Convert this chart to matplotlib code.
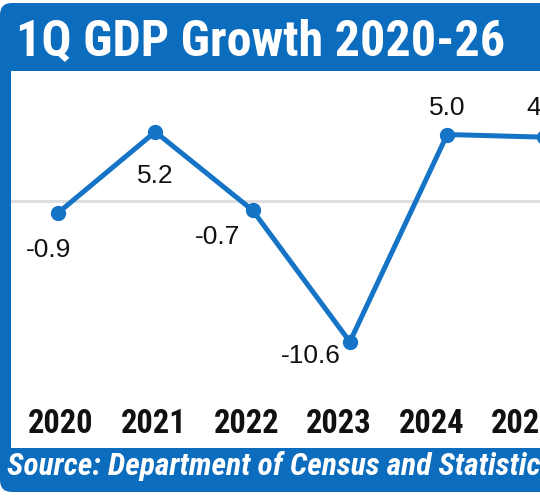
import matplotlib
matplotlib.use("Agg")
import matplotlib.pyplot as plt
from matplotlib import font_manager as fm
from matplotlib.patches import FancyBboxPatch

years = [2020, 2021, 2022, 2023, 2024, 2025]
year_labels = ["2020", "2021", "2022", "2023", "2024", "2025"]
growth = [-0.9, 5.2, -0.7, -10.6, 5.0, 4.8]
value_labels = ["-0.9", "5.2", "-0.7", "-10.6", "5.0", "4.8"]
title = "1Q GDP Growth 2020-26"
source = "Source: Department of Census and Statistics"

# label offsets in points (style only)
label_offsets = [(-7, -27), (0, -32), (-25, -19), (-28, -10), (0, 19), (0, 21)]

def pick(cands):
    names = {f.name for f in fm.fontManager.ttflist}
    for c in cands:
        if c in names:
            return c
    return "DejaVu Sans"

narrow = pick(["Roboto Condensed", "Liberation Sans Narrow", "DejaVu Sans Condensed", "Liberation Sans"])
regular = pick(["Liberation Sans", "Arial", "DejaVu Sans"])

BLUE = "#0c6cbd"
LINE = "#1674c6"

fig = plt.figure(figsize=(5.4, 5.0), dpi=100)
fig.patch.set_facecolor("white")

bg = fig.add_axes([0, 0, 1, 1])
bg.set_xlim(0, 540)
bg.set_ylim(500, 0)
bg.axis("off")
bg.add_patch(FancyBboxPatch((0, 3), 620, 489, boxstyle="round,pad=0,rounding_size=12",
                            facecolor=BLUE, edgecolor="none"))
bg.text(16, 55, title, color="white", fontsize=36, fontweight="bold",
        family=[narrow, "DejaVu Sans"], va="baseline", ha="left")
bg.text(7, 475, source, color="white", fontsize=22.6, fontweight="bold", fontstyle="italic",
        family=[narrow, "DejaVu Sans"], va="baseline", ha="left")

ax = fig.add_axes([11 / 540, 52 / 500, 529 / 540, 377 / 500])
ax.set_facecolor("white")
ax.set_xlim(2019.517, 2024.954)
ax.set_ylim(-18.59, 9.78)
for s in ax.spines.values():
    s.set_visible(False)
ax.set_yticks([])
ax.set_xticks([])
ax.axhline(0, color="#dedede", lw=2.2, zorder=1)
ax.plot(years, growth, color=LINE, lw=3.6, marker="o", ms=10, zorder=3, clip_on=False)
for x, y, t, (dx, dy) in zip(years, growth, value_labels, label_offsets):
    ax.annotate(t, (x, y), xytext=(dx, dy), textcoords="offset points", ha="center", va="center",
                fontsize=19, family=[regular], color="#111111", annotation_clip=False)

ax2 = fig.add_axes(ax.get_position())
ax2.patch.set_visible(False)
ax2.set_xlim(2019.46, 2025.173)
ax2.set_ylim(0, 1)
for s in ax2.spines.values():
    s.set_visible(False)
ax2.set_yticks([])
ax2.set_xticks(years)
ax2.set_xticklabels(year_labels, fontsize=23.5, fontweight="bold", family=[narrow, "DejaVu Sans"], color="#111111")
ax2.tick_params(axis="x", length=0, pad=-28.5)

fig.savefig("out.png", dpi=100)
